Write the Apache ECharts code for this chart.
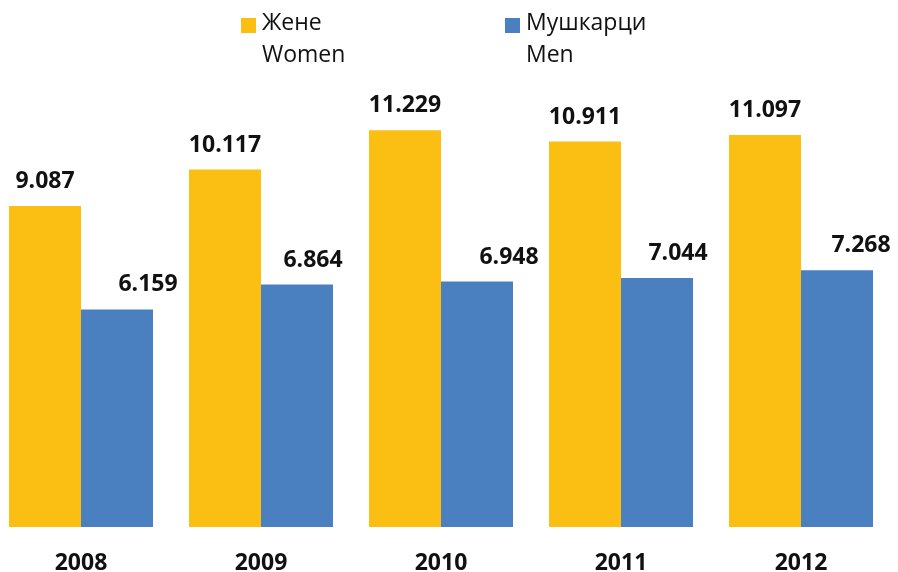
<!DOCTYPE html>
<html>
<head>
<meta charset="utf-8">
<script src="https://cdn.jsdelivr.net/npm/echarts@6/dist/echarts.min.js"></script>
<style>
  html, body { margin: 0; padding: 0; background: #fff; }
  #chart { width: 898px; height: 572px; }
</style>
</head>
<body>
<div id="chart"></div>
<script>
const years = ['2008', '2009', '2010', '2011', '2012'];
const women = [9.087, 10.117, 11.229, 10.911, 11.097];
const men = [6.159, 6.864, 6.948, 7.044, 7.268];
const womenName = 'Жене\nWomen';
const menName = 'Мушкарци\nMen';

// men labels sit a bit right of their bars in the original
const menLabelShift = [31, 16, 32, 21, 24];

const font = '"Open Sans", "Noto Sans", sans-serif';
// square on the first text line, spare height below it
const legendIcon = 'path://M0,11H15V26H0Z M0,0 M0,64';

const chart = echarts.init(document.getElementById('chart'));

function legendAt(left, name) {
  return {
    left: left,
    top: 7,
    padding: 0,
    data: [name],
    icon: legendIcon,
    itemWidth: 15,
    itemHeight: 64,
    itemGap: 0,
    selectedMode: false,
    textStyle: { fontFamily: font, fontSize: 23, lineHeight: 32, color: '#111', padding: [0, 0, 0, 1] }
  };
}

chart.setOption({
  animation: false,
  legend: [legendAt(241, womenName), legendAt(505, menName)],
  grid: { left: -9, width: 900, top: 103, bottom: 45, outerBoundsMode: 'none', containLabel: false },
  xAxis: {
    type: 'category',
    data: years,
    axisLine: { show: false },
    axisTick: { show: false },
    axisLabel: { fontFamily: font, fontSize: 23, fontWeight: 'bold', color: '#111', margin: 25 }
  },
  yAxis: {
    type: 'value',
    min: 0,
    max: 12,
    show: false,
    splitLine: { show: false }
  },
  series: [
    {
      name: womenName,
      type: 'bar',
      barGap: '0%',
      barCategoryGap: '20%',
      data: women,
      itemStyle: { color: '#FBBF14' },
      label: {
        show: true, position: 'top', distance: 13,
        fontFamily: font, fontSize: 23, fontWeight: 'bold', color: '#111',
        formatter: p => p.value.toFixed(3)
      }
    },
    {
      name: menName,
      type: 'bar',
      data: men.map((v, i) => ({ value: v, label: { offset: [menLabelShift[i], 0] } })),
      itemStyle: { color: '#4A80C0' },
      label: {
        show: true, position: 'top', distance: 13,
        fontFamily: font, fontSize: 23, fontWeight: 'bold', color: '#111',
        formatter: p => p.value.toFixed(3)
      }
    }
  ]
});
</script>
</body>
</html>
